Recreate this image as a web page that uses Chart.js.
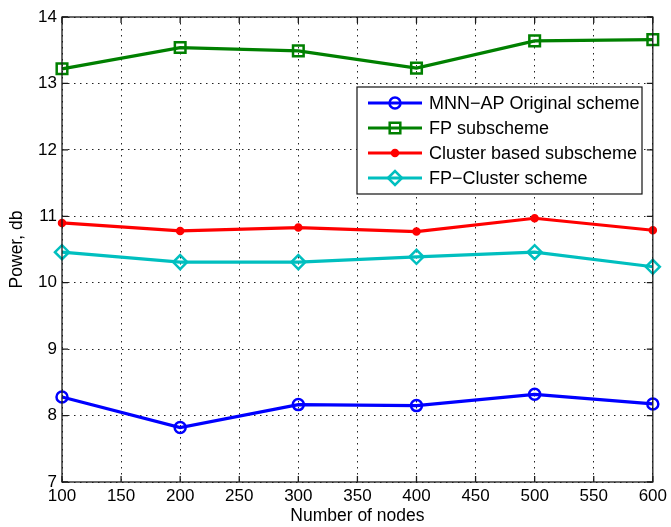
<!DOCTYPE html>
<html>
<head>
<meta charset="utf-8">
<script src="https://cdn.jsdelivr.net/npm/chart.js@4"></script>
<style>
  html, body { margin: 0; padding: 0; background: #fff; }
  #wrap { width: 671px; height: 527px; }
</style>
</head>
<body>
<div id="wrap"><canvas id="myChart" width="671" height="527"></canvas></div>
<script>
// data
const nodes = [100, 200, 300, 400, 500, 600];
const mnnAp = [8.28, 7.82, 8.165, 8.15, 8.32, 8.175];
const fpSub = [13.22, 13.54, 13.49, 13.23, 13.64, 13.66];
const clusterSub = [10.90, 10.78, 10.83, 10.77, 10.97, 10.79];
const fpCluster = [10.46, 10.31, 10.31, 10.39, 10.46, 10.24];

const seriesNames = ['MNN\u2212AP Original scheme', 'FP subscheme', 'Cluster based subscheme', 'FP\u2212Cluster scheme'];
const xTicks = { min: 100, max: 600, step: 50 };
const yTicks = { min: 7, max: 14, step: 1 };

const FONT = 'Liberation Sans, Arial, Helvetica, sans-serif';

const toPoints = vals => vals.map((v, i) => ({ x: nodes[i], y: v }));

const makeSet = (label, vals, color, style, radius, filled) => ({
  label,
  data: toPoints(vals),
  borderColor: color,
  backgroundColor: filled ? color : 'rgba(0,0,0,0)',
  pointBorderColor: color,
  pointBackgroundColor: filled ? color : 'rgba(0,0,0,0)',
  pointStyle: style,
  pointRadius: radius,
  pointHoverRadius: radius,
  pointBorderWidth: 2.5,
  borderWidth: 3.2,
  tension: 0,
  clip: false
});

// draws box, inward ticks and the legend the matlab way
const matlabFrame = {
  id: 'matlabFrame',
  afterDraw(chart) {
    const { ctx, chartArea: a } = chart;
    const xs = chart.scales.x, ys = chart.scales.y;
    ctx.save();
    ctx.strokeStyle = '#1a1a1a';
    ctx.lineWidth = 1.3;
    ctx.setLineDash([]);
    ctx.strokeRect(a.left, a.top, a.right - a.left, a.bottom - a.top);
    const tl = 6;
    ctx.beginPath();
    for (let v = xTicks.min; v <= xTicks.max; v += xTicks.step) {
      const px = xs.getPixelForValue(v);
      ctx.moveTo(px, a.bottom); ctx.lineTo(px, a.bottom - tl);
      ctx.moveTo(px, a.top); ctx.lineTo(px, a.top + tl);
    }
    for (let v = yTicks.min; v <= yTicks.max; v += yTicks.step) {
      const py = ys.getPixelForValue(v);
      ctx.moveTo(a.left, py); ctx.lineTo(a.left + tl, py);
      ctx.moveTo(a.right, py); ctx.lineTo(a.right - tl, py);
    }
    ctx.stroke();

    // legend
    const bx = 357, by = 87, bw = 285, bh = 107;
    ctx.fillStyle = '#fff';
    ctx.fillRect(bx, by, bw, bh);
    ctx.strokeStyle = '#111';
    ctx.lineWidth = 1.2;
    ctx.strokeRect(bx, by, bw, bh);
    ctx.font = '18px ' + FONT;
    ctx.textBaseline = 'middle';
    ctx.textAlign = 'left';
    chart.data.datasets.forEach((ds, i) => {
      const y = by + 16 + i * 25;
      ctx.strokeStyle = ds.borderColor;
      ctx.lineWidth = ds.borderWidth;
      ctx.beginPath();
      ctx.moveTo(bx + 11, y); ctx.lineTo(bx + 65, y);
      ctx.stroke();
      ctx.fillStyle = ds.pointBackgroundColor;
      ctx.lineWidth = ds.pointBorderWidth;
      Chart.helpers.drawPoint(ctx, {
        pointStyle: ds.pointStyle, radius: ds.pointRadius, rotation: 0, borderWidth: ds.pointBorderWidth
      }, bx + 38, y);
      ctx.fillStyle = '#000';
      ctx.fillText(ds.label, bx + 72, y + 1);
    });
    ctx.restore();
  }
};

const ctx = document.getElementById('myChart').getContext('2d');
new Chart(ctx, {
  type: 'line',
  data: {
    datasets: [
      makeSet(seriesNames[0], mnnAp, '#0000ff', 'circle', 5.5, false),
      makeSet(seriesNames[1], fpSub, '#008000', 'rect', 7.5, false),
      makeSet(seriesNames[2], clusterSub, '#ff0000', 'circle', 3, true),
      makeSet(seriesNames[3], fpCluster, '#00bfbf', 'rectRot', 7, false)
    ]
  },
  options: {
    responsive: false,
    animation: false,
    devicePixelRatio: 1,
    layout: { padding: { top: 17, right: 18, left: 0, bottom: 0 } },
    plugins: {
      legend: { display: false },
      tooltip: { enabled: false }
    },
    scales: {
      x: {
        type: 'linear',
        min: xTicks.min,
        max: xTicks.max,
        afterFit: s => { s.height = 45; },
        ticks: {
          stepSize: xTicks.step,
          color: '#000',
          padding: 4,
          maxRotation: 0,
          font: { family: FONT, size: 17 }
        },
        grid: { color: '#222', lineWidth: 1, drawTicks: false },
        border: { display: false, dash: [1.5, 4.5] },
        title: {
          display: true,
          text: 'Number of nodes',
          color: '#000',
          font: { family: FONT, size: 17.5 },
          padding: { top: 0, bottom: 0 }
        }
      },
      y: {
        min: yTicks.min,
        max: yTicks.max,
        afterFit: s => { s.width = 62; },
        ticks: {
          stepSize: yTicks.step,
          color: '#000',
          padding: 5,
          font: { family: FONT, size: 17 }
        },
        grid: { color: '#222', lineWidth: 1, drawTicks: false },
        border: { display: false, dash: [1.5, 4.5] },
        title: {
          display: true,
          text: 'Power, db',
          color: '#000',
          font: { family: FONT, size: 17.5 },
          padding: { top: 7, bottom: 0 }
        }
      }
    }
  },
  plugins: [matlabFrame]
});
</script>
</body>
</html>
